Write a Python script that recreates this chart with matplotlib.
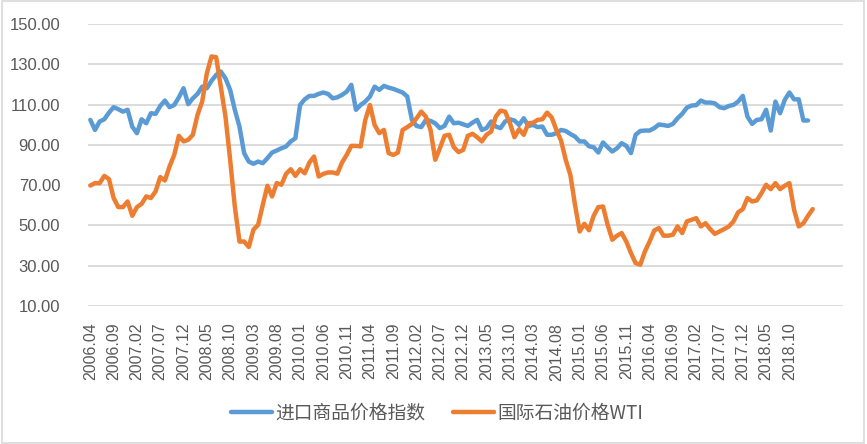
import matplotlib
matplotlib.use("Agg")
import matplotlib.pyplot as plt
import numpy as np
import pandas as pd
from matplotlib.patches import Rectangle

# Monthly categories, 2006.04 onwards (axis keeps a few empty slots at the end)
months = [p.strftime("%Y.%m") for p in pd.period_range("2006-04", periods=162, freq="M")]

# 进口商品价格指数 (2006.04 - 2019.02)
import_index = [
    102.4, 97.4, 101.6, 102.7, 106.0, 108.7, 107.7, 106.5, 107.4, 99.0,
    95.8, 102.7, 100.7, 105.7, 105.4, 109.3, 112.0, 108.7, 109.8, 113.6,
    118.1, 110.2, 113.1, 115.3, 118.9, 118.1, 121.8, 124.7, 126.4, 123.0,
    117.3, 107.4, 99.1, 85.9, 81.7, 80.6, 81.7, 80.9, 83.4, 86.2,
    87.2, 88.3, 89.2, 91.7, 93.3, 109.8, 112.6, 114.3, 114.3, 115.3,
    116.0, 115.3, 113.1, 113.6, 114.8, 116.4, 119.8, 107.4, 109.8, 111.5,
    114.0, 118.9, 117.3, 119.3, 118.4, 117.8, 116.9, 116.0, 114.0, 102.4,
    99.4, 98.8, 102.4, 101.9, 100.7, 98.3, 99.4, 104.0, 100.7, 101.0,
    100.2, 99.4, 101.0, 102.4, 97.4, 98.3, 101.6, 99.1, 98.3, 101.6,
    102.7, 102.1, 99.9, 103.2, 99.4, 99.9, 98.8, 99.1, 95.0, 95.0,
    95.8, 97.4, 96.9, 95.4, 94.1, 91.7, 91.7, 89.3, 88.8, 86.2,
    91.2, 88.8, 86.7, 88.3, 90.8, 89.5, 85.9, 95.0, 96.9, 97.1,
    97.1, 98.3, 100.1, 99.8, 99.4, 100.4, 103.2, 105.4, 108.5, 109.5,
    109.7, 112.0, 111.0, 111.0, 110.6, 108.7, 108.2, 109.3, 109.8, 111.5,
    114.3, 104.0, 100.4, 102.4, 102.7, 107.4, 97.1, 111.5, 105.7, 112.3,
    116.0, 112.6, 112.6, 102.1, 102.1,
]

# 国际石油价格WTI (2006.04 - 2019.03)
wti_price = [
    69.8, 71.0, 71.0, 74.6, 73.0, 63.6, 59.1, 59.1, 61.9, 54.8,
    59.1, 60.7, 64.4, 63.6, 66.9, 74.0, 72.3, 79.3, 85.0, 94.5,
    91.7, 92.5, 95.0, 104.9, 111.5, 125.5, 133.9, 133.5, 118.9, 104.0,
    82.6, 59.4, 42.0, 42.0, 39.3, 47.9, 50.3, 60.2, 69.7, 64.4,
    71.0, 70.2, 75.6, 77.9, 74.6, 77.9, 75.9, 81.2, 84.2, 74.3,
    75.6, 76.3, 76.3, 75.7, 81.2, 85.0, 89.5, 89.5, 89.2, 102.4,
    109.8, 99.9, 95.8, 97.4, 85.9, 85.0, 86.2, 97.4, 98.8, 100.4,
    103.2, 106.5, 104.0, 97.4, 82.6, 88.3, 94.5, 95.0, 88.8, 86.4,
    87.5, 94.5, 95.5, 93.8, 91.7, 95.0, 96.6, 104.0, 107.0, 106.5,
    101.0, 93.8, 97.8, 95.0, 100.7, 101.0, 102.4, 102.7, 106.0, 103.6,
    97.4, 92.1, 82.6, 75.1, 60.2, 47.0, 50.8, 47.6, 54.8, 59.1,
    59.4, 50.3, 42.9, 44.9, 46.2, 42.0, 36.3, 31.3, 30.5, 37.1,
    42.0, 47.5, 48.7, 44.9, 44.9, 45.4, 49.5, 46.2, 52.0, 52.8,
    53.6, 49.5, 51.1, 48.2, 45.8, 47.0, 48.2, 49.5, 52.0, 56.5,
    58.1, 63.6, 61.9, 62.4, 66.0, 70.2, 68.0, 71.0, 68.0, 69.7,
    71.0, 57.8, 49.5, 51.1, 54.8, 58.1,
]

y_ticks = [10, 30, 50, 70, 90, 110, 130, 150]
series_names = ["进口商品价格指数", "国际石油价格WTI"]

TEXT_GREY = "#595959"
GRID_GREY = "#d9d9d9"
BLUE = "#5B9BD5"
ORANGE = "#ED7D31"

plt.rcParams["font.family"] = ["Liberation Sans", "Noto Sans CJK SC", "DejaVu Sans"]

fig = plt.figure(figsize=(8.67, 4.44), dpi=100)
ax = fig.add_axes([88 / 867, 1 - 306 / 444, (843 - 88) / 867, (306 - 24) / 444])

x_blue = np.arange(len(import_index))
x_orange = np.arange(len(wti_price))
line_kw = dict(lw=3.2, solid_joinstyle="round", solid_capstyle="round")
ax.plot(x_blue, import_index, color=BLUE, label=series_names[0], **line_kw)
ax.plot(x_orange, wti_price, color=ORANGE, label=series_names[1], **line_kw)

# axes / grid in the Excel look
ax.set_xlim(-0.5, len(months) - 0.5)
ax.set_ylim(10, 150)
ax.set_yticks(y_ticks)
ax.set_yticklabels([f"{v:.2f}" for v in y_ticks])
ax.yaxis.grid(True, color=GRID_GREY, lw=1.3)
ax.set_axisbelow(True)
for s in ax.spines.values():
    s.set_visible(False)

tick_pos = list(range(0, 151, 5))
ax.set_xticks(tick_pos)
ax.set_xticklabels([months[i] for i in tick_pos], rotation=90, va="top", ha="center")
ax.tick_params(axis="x", length=0, pad=12, labelsize=11.5, colors=TEXT_GREY)
ax.tick_params(axis="y", length=0, pad=20, labelsize=12, colors=TEXT_GREY)

leg = fig.legend(
    loc="center", bbox_to_anchor=(437 / 867, 1 - 413 / 444), ncol=2, frameon=False,
    prop={"family": ["Noto Sans CJK SC", "DejaVu Sans"], "size": 13.5},
    handlelength=2.2, handletextpad=0.15, columnspacing=1.5,
)
for t in leg.get_texts():
    t.set_color(TEXT_GREY)

# light chart-area border
fig.patches.append(Rectangle((0.002, 0.003), 0.995, 0.994, transform=fig.transFigure,
                             fill=False, edgecolor=GRID_GREY, lw=1.2))

fig.savefig("out.png", dpi=100)
